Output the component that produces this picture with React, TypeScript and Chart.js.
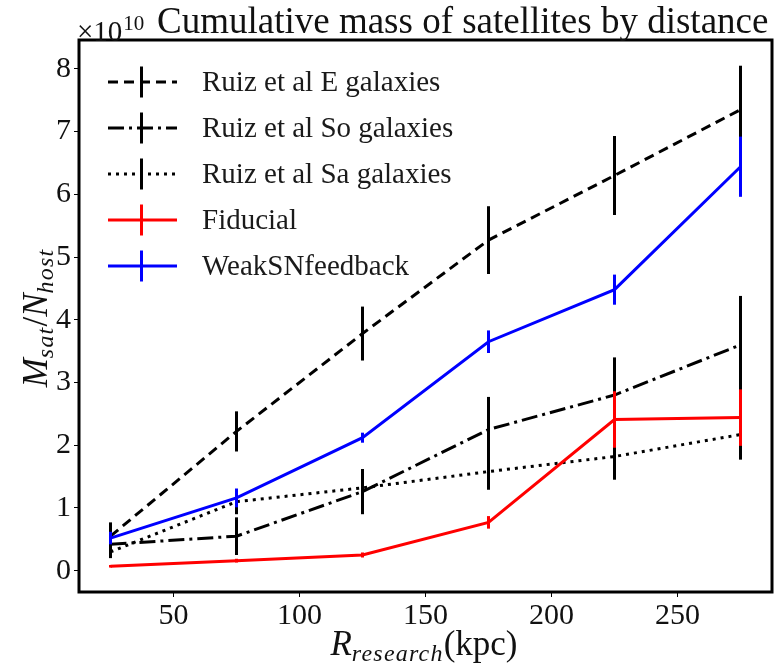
import React, { useEffect, useRef } from "react";
import { Chart, registerables } from "chart.js";

Chart.register(...registerables);

const xValues = [25, 75, 125, 175, 225, 275];
const eGal = [0.55, 2.22, 3.78, 5.27, 6.3, 7.35];
const eErr = [0.22, 0.32, 0.43, 0.54, 0.63, 0.7];
const soGal = [0.42, 0.55, 1.26, 2.25, 2.8, 3.6];
const soErr = [0.2, 0.3, 0.36, 0.52, 0.6, 0.78];
const saGal = [0.3, 1.1, 1.32, 1.58, 1.82, 2.17];
const saErr = [0.1, 0.2, 0.3, 0.29, 0.37, 0.4];
const fiducial = [0.07, 0.16, 0.25, 0.77, 2.41, 2.44];
const fidErr = [0.02, 0.03, 0.04, 0.1, 0.45, 0.45];
const weakSN = [0.52, 1.16, 2.12, 3.65, 4.48, 6.44];
const weakErr = [0.1, 0.15, 0.08, 0.18, 0.24, 0.48];

const xTicks = [50, 100, 150, 200, 250];
const yTicks = [0, 1, 2, 3, 4, 5, 6, 7, 8];

const seriesLabels = [
  "Ruiz et al E galaxies",
  "Ruiz et al So galaxies",
  "Ruiz et al Sa galaxies",
  "Fiducial",
  "WeakSNfeedback",
];
const seriesValues = [eGal, soGal, saGal, fiducial, weakSN];
const seriesErrors = [eErr, soErr, saErr, fidErr, weakErr];
const seriesColors = ["#000000", "#000000", "#000000", "#ff0000", "#0000ff"];
const seriesDashes: number[][] = [[10, 6], [16, 5, 3, 5], [3, 5], [], []];

const SERIF = "'Liberation Serif', 'DejaVu Serif', serif";

type Seg = { t: string; italic?: boolean; size: number; dy?: number; ls?: number };

function drawSegs(ctx: CanvasRenderingContext2D, segs: Seg[], cx: number, y: number) {
  let total = 0;
  const setFont = (s: Seg) => {
    ctx.font = `${s.italic ? "italic " : ""}${s.size}px ${SERIF}`;
    (ctx as any).letterSpacing = `${s.ls || 0}px`;
  };
  const widths = segs.map((s) => {
    setFont(s);
    const w = ctx.measureText(s.t).width;
    total += w;
    return w;
  });
  let x = cx - total / 2;
  segs.forEach((s, i) => {
    setFont(s);
    ctx.fillText(s.t, x, y + (s.dy || 0));
    x += widths[i];
  });
  (ctx as any).letterSpacing = "0px";
}

const decorPlugin = {
  id: "decor",
  afterDatasetDraw(chart: any, args: any) {
    const i = args.index;
    const ctx = chart.ctx;
    const xs = chart.scales.x;
    const ys = chart.scales.y;
    const a = chart.chartArea;
    ctx.save();
    ctx.beginPath();
    ctx.rect(a.left, a.top, a.right - a.left, a.bottom - a.top);
    ctx.clip();
    ctx.strokeStyle = seriesColors[i];
    ctx.lineWidth = 3;
    ctx.setLineDash([]);
    xValues.forEach((xv, j) => {
      const v = seriesValues[i][j];
      const e = seriesErrors[i][j];
      const px = xs.getPixelForValue(xv);
      ctx.beginPath();
      ctx.moveTo(px, ys.getPixelForValue(v + e));
      ctx.lineTo(px, ys.getPixelForValue(v - e));
      ctx.stroke();
    });
    ctx.restore();
  },
  afterDraw(chart: any) {
    const ctx = chart.ctx;
    const a = chart.chartArea;
    ctx.save();
    // frame
    ctx.strokeStyle = "#000";
    ctx.lineWidth = 3;
    ctx.setLineDash([]);
    ctx.strokeRect(a.left, a.top, a.right - a.left, a.bottom - a.top);

    // legend
    const rowY0 = 82;
    const rowGap = 46;
    seriesLabels.forEach((lab, i) => {
      const y = rowY0 + i * rowGap;
      ctx.strokeStyle = seriesColors[i];
      ctx.lineWidth = 3;
      ctx.setLineDash(seriesDashes[i]);
      ctx.beginPath();
      ctx.moveTo(108, y);
      ctx.lineTo(177, y);
      ctx.stroke();
      ctx.setLineDash([]);
      ctx.beginPath();
      ctx.moveTo(141.5, y - 15.5);
      ctx.lineTo(141.5, y + 15.5);
      ctx.stroke();
      ctx.fillStyle = "#1a1a1a";
      ctx.font = `29px ${SERIF}`;
      ctx.textBaseline = "middle";
      ctx.textAlign = "left";
      ctx.fillText(lab, 202, y + 1);
    });

    ctx.fillStyle = "#111";
    ctx.textBaseline = "alphabetic";
    ctx.textAlign = "left";
    // title
    ctx.font = `37px ${SERIF}`;
    ctx.fillText("Cumulative mass of satellites by distance", 157, 33);
    // offset text
    ctx.font = `29px ${SERIF}`;
    ctx.fillText("\u00d710", 77, 41);
    const w10 = ctx.measureText("\u00d710").width;
    ctx.font = `21px ${SERIF}`;
    ctx.fillText("10", 77 + w10 + 1, 30);

    // x label
    drawSegs(
      ctx,
      [
        { t: "R", italic: true, size: 35 },
        { t: "research", italic: true, size: 24, dy: 6, ls: 1.2 },
        { t: "(kpc)", size: 35 },
      ],
      424,
      655
    );

    // y label
    ctx.translate(47, 318);
    ctx.rotate(-Math.PI / 2);
    drawSegs(
      ctx,
      [
        { t: "M", italic: true, size: 35 },
        { t: "sat", italic: true, size: 24, dy: 6, ls: 1.2 },
        { t: "/", size: 35 },
        { t: "N", italic: true, size: 35 },
        { t: "host", italic: true, size: 24, dy: 6, ls: 1.2 },
      ],
      0,
      0
    );
    ctx.restore();
  },
};

export default function App() {
  const ref = useRef<HTMLCanvasElement>(null);
  useEffect(() => {
    document.body.style.margin = "0";
    const canvas = ref.current!;
    const order = [5, 4, 3, 2, 1];
    const chart = new Chart(canvas, {
      type: "line",
      data: {
        datasets: seriesLabels.map((lab, i) => ({
          label: lab,
          data: xValues.map((x, j) => ({ x, y: seriesValues[i][j] })),
          borderColor: seriesColors[i],
          borderWidth: 3,
          borderDash: seriesDashes[i],
          pointRadius: 0,
          fill: false,
          tension: 0,
          order: order[i],
        })),
      },
      options: {
        responsive: false,
        animation: false,
        layout: { padding: { top: 40, right: 2, left: 0, bottom: 0 } },
        plugins: {
          legend: { display: false },
          tooltip: { enabled: false },
          title: { display: false },
        },
        scales: {
          x: {
            type: "linear",
            min: 12.5,
            max: 287.5,
            afterBuildTicks: (s: any) => {
              s.ticks = xTicks.map((v) => ({ value: v }));
            },
            afterFit: (s: any) => {
              s.height = 72;
            },
            border: { display: false },
            grid: {
              drawOnChartArea: false,
              drawTicks: true,
              tickLength: 5,
              color: "#000",
              lineWidth: 1,
            },
            ticks: {
              color: "#111",
              font: { family: SERIF, size: 30 },
              padding: 1,
              maxRotation: 0,
            },
          },
          y: {
            type: "linear",
            min: -0.34,
            max: 8.46,
            afterBuildTicks: (s: any) => {
              s.ticks = yTicks.map((v) => ({ value: v }));
            },
            afterFit: (s: any) => {
              s.width = 79;
            },
            border: { display: false },
            grid: {
              drawOnChartArea: false,
              drawTicks: true,
              tickLength: 5,
              color: "#000",
              lineWidth: 1,
            },
            ticks: {
              color: "#111",
              font: { family: SERIF, size: 30 },
              padding: 3,
            },
          },
        },
      },
      plugins: [decorPlugin],
    });
    return () => chart.destroy();
  }, []);
  return <canvas ref={ref} width={774} height={664} style={{ display: "block" }} />;
}
